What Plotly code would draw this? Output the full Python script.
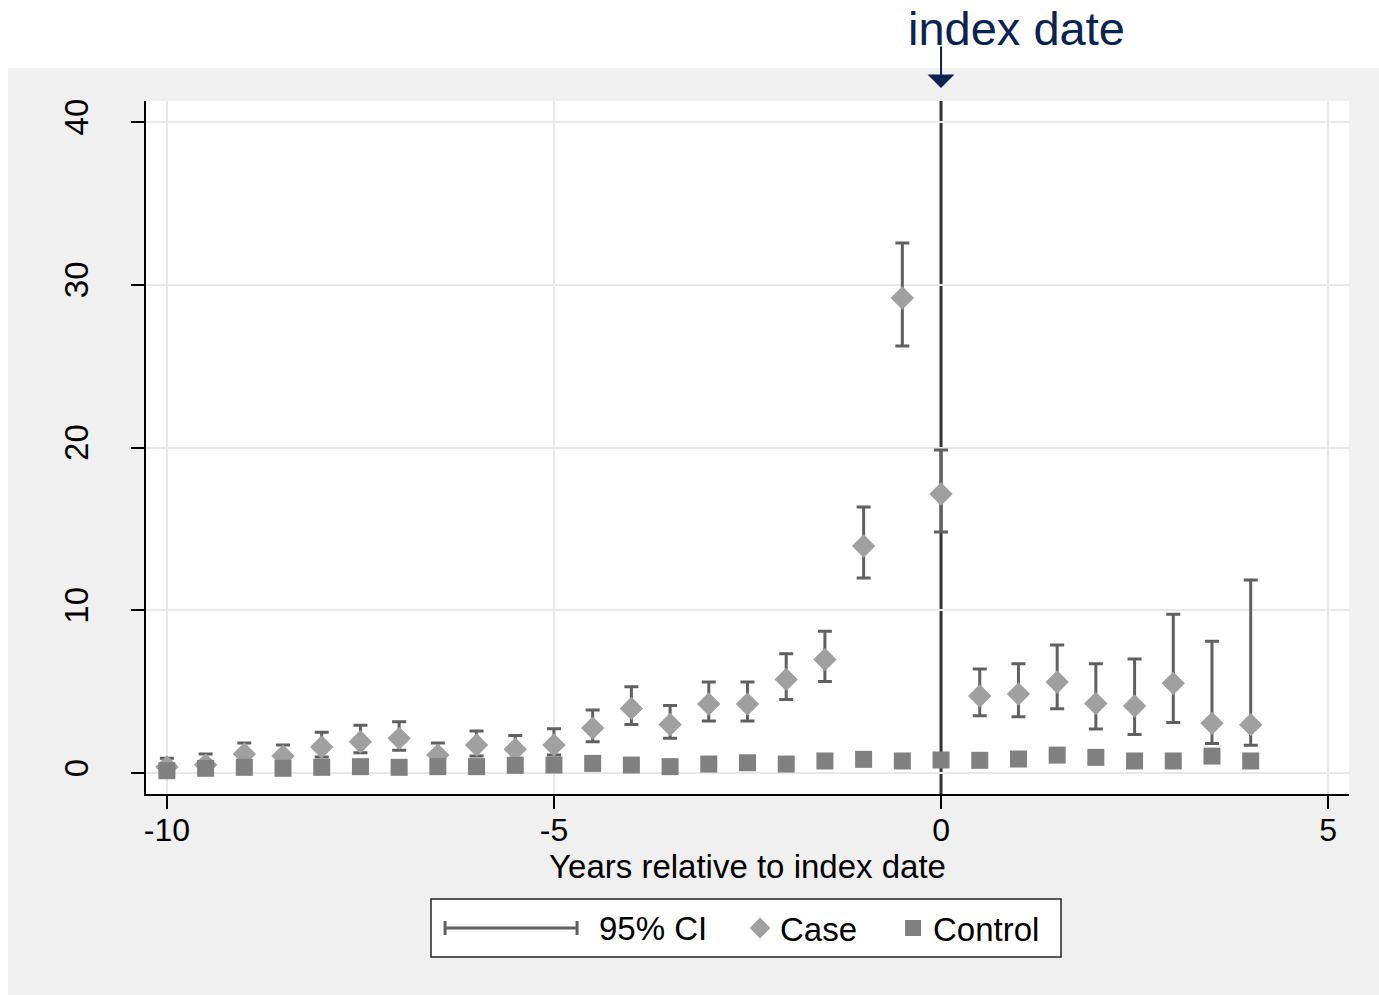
import plotly.graph_objects as go

years = [-10, -9.5, -9, -8.5, -8, -7.5, -7, -6.5, -6, -5.5, -5, -4.5, -4, -3.5, -3,
         -2.5, -2, -1.5, -1, -0.5, 0, 0.5, 1, 1.5, 2, 2.5, 3, 3.5, 4]

case = [0.37, 0.5, 1.17, 1.04, 1.6, 1.92, 2.13, 1.1, 1.72, 1.46, 1.72, 2.76, 3.97, 2.98, 4.24,
        4.24, 5.75, 6.97, 13.95, 29.19, 17.14, 4.73, 4.85, 5.59, 4.27, 4.12, 5.51, 3.05, 2.97]
case_hi = [0.9, 1.17, 1.84, 1.72, 2.5, 2.94, 3.15, 1.84, 2.58, 2.3, 2.72, 3.87, 5.3, 4.15, 5.59,
           5.59, 7.33, 8.71, 16.34, 32.57, 19.85, 6.39, 6.72, 7.86, 6.72, 7.0, 9.75, 8.09, 11.86]
case_lo = [0.1, 0.2, 0.7, 0.6, 0.98, 1.25, 1.4, 0.65, 1.04, 0.9, 1.1, 1.92, 2.98, 2.13, 3.19,
           3.19, 4.52, 5.63, 11.98, 26.24, 14.81, 3.52, 3.46, 3.95, 2.7, 2.37, 3.11, 1.82, 1.7]

control = [0.14, 0.29, 0.35, 0.29, 0.35, 0.39, 0.35, 0.39, 0.39, 0.47, 0.49, 0.59, 0.49, 0.39, 0.55,
           0.63, 0.55, 0.74, 0.84, 0.74, 0.8, 0.78, 0.86, 1.1, 0.96, 0.74, 0.74, 1.04, 0.74]

x_ticks = [-10, -5, 0, 5]
x_grid = [-10, -5, 5]
y_ticks = [0, 10, 20, 30, 40]
index_date = 0

err_plus = [h - v for h, v in zip(case_hi, case)]
err_minus = [v - l for v, l in zip(case, case_lo)]

FONT = "Liberation Sans, Arial, sans-serif"
ERR_COLOR = "#606060"
NAVY = "#0a2352"

fig = go.Figure()

# invisible helper trace so the grid-only overlay axis is drawn
fig.add_trace(go.Scatter(x=[None], y=[None], xaxis="x2", yaxis="y",
                         showlegend=False, hoverinfo="skip"))

fig.add_trace(go.Scatter(
    x=years, y=case, mode="markers", name="Case",
    marker=dict(symbol="diamond", size=18, color="#a0a0a0"),
    error_y=dict(type="data", array=err_plus, arrayminus=err_minus, symmetric=False,
                 color=ERR_COLOR, thickness=3, width=7),
))
fig.add_trace(go.Scatter(
    x=years, y=control, mode="markers", name="Control",
    marker=dict(symbol="square", size=17, color="#808080"),
))

# index date vertical line
fig.add_shape(type="line", xref="x", yref="paper", x0=index_date, x1=index_date, y0=0, y1=1,
              line=dict(color="#333333", width=3), layer="between")

# white strips outside the grey panel
fig.add_shape(type="rect", xref="paper", yref="paper", x0=-0.2, x1=1.1,
              y0=1.0476, y1=1.3, fillcolor="white", line=dict(width=0), layer="below")
fig.add_shape(type="rect", xref="paper", yref="paper", x0=-0.2, x1=-0.1147,
              y0=-0.4, y1=1.3, fillcolor="white", line=dict(width=0), layer="below")

# legend box + 95% CI key
LEG_Y = -0.1934
fig.add_shape(type="rect", xref="paper", yref="paper", x0=0.2369, x1=0.7606,
              y0=-0.2352, y1=-0.1515, fillcolor="white",
              line=dict(color="#222222", width=1.5), layer="below")
fig.add_shape(type="line", xref="paper", yref="paper", x0=0.2486, x1=0.3583,
              y0=LEG_Y, y1=LEG_Y, line=dict(color=ERR_COLOR, width=3))
for cx in (0.2486, 0.3583):
    fig.add_shape(type="line", xref="paper", yref="paper", x0=cx, x1=cx,
                  y0=LEG_Y - 0.0101, y1=LEG_Y + 0.0101, line=dict(color=ERR_COLOR, width=3))
fig.add_annotation(x=0.3749, xref="paper", y=LEG_Y, yref="paper", showarrow=False,
                   text="95% CI", xanchor="left", yanchor="middle",
                   font=dict(family=FONT, size=33, color="black"))

fig.add_annotation(x=index_date, xref="x", y=1.0188, yref="paper", ax=0, ay=-43,
                   showarrow=True, arrowhead=1, arrowsize=2.25, arrowwidth=2,
                   arrowcolor=NAVY, text="", standoff=0)
fig.add_annotation(x=0.724, xref="paper", y=1.1039, yref="paper", showarrow=False,
                   text="index date", xanchor="center", yanchor="middle",
                   font=dict(family=FONT, size=47, color=NAVY))

fig.update_layout(
    width=1379, height=995,
    margin=dict(l=146, r=30, t=101, b=201),
    paper_bgcolor="#f0f0f0", plot_bgcolor="white",
    font=dict(family=FONT, size=33, color="black"),
    showlegend=True,
    legend=dict(orientation="h", x=0.4938, xanchor="left", y=LEG_Y, yanchor="middle",
                bgcolor="rgba(0,0,0,0)", borderwidth=0,
                font=dict(family=FONT, size=33, color="black"),
                itemwidth=30, entrywidth=108, entrywidthmode="pixels", itemclick=False),
    xaxis=dict(range=[-10.27, 5.27], tickvals=x_ticks, ticktext=[str(t) for t in x_ticks],
               showgrid=False, zeroline=False,
               showline=True, linecolor="black", linewidth=1.5,
               ticks="outside", ticklen=13, tickwidth=1.5, tickcolor="black",
               ticklabelstandoff=-6,
               title=dict(text="Years relative to index date", standoff=0,
                          font=dict(family=FONT, size=33)),
               tickfont=dict(family=FONT, size=32)),
    xaxis2=dict(overlaying="x", matches="x", tickvals=x_grid, showticklabels=False,
                ticks="", showline=False, zeroline=False,
                showgrid=True, gridcolor="#e8e8e8", gridwidth=2),
    yaxis=dict(range=[-1.29, 41.29], tickvals=y_ticks, ticktext=[str(t) for t in y_ticks],
               showgrid=True, gridcolor="#e8e8e8", gridwidth=2, zeroline=False,
               showline=True, linecolor="black", linewidth=1.5,
               ticks="outside", ticklen=13, tickwidth=1.5, tickcolor="black",
               tickangle=-90, ticklabelstandoff=30,
               tickfont=dict(family=FONT, size=33)),
)

fig.write_html("out.html")
